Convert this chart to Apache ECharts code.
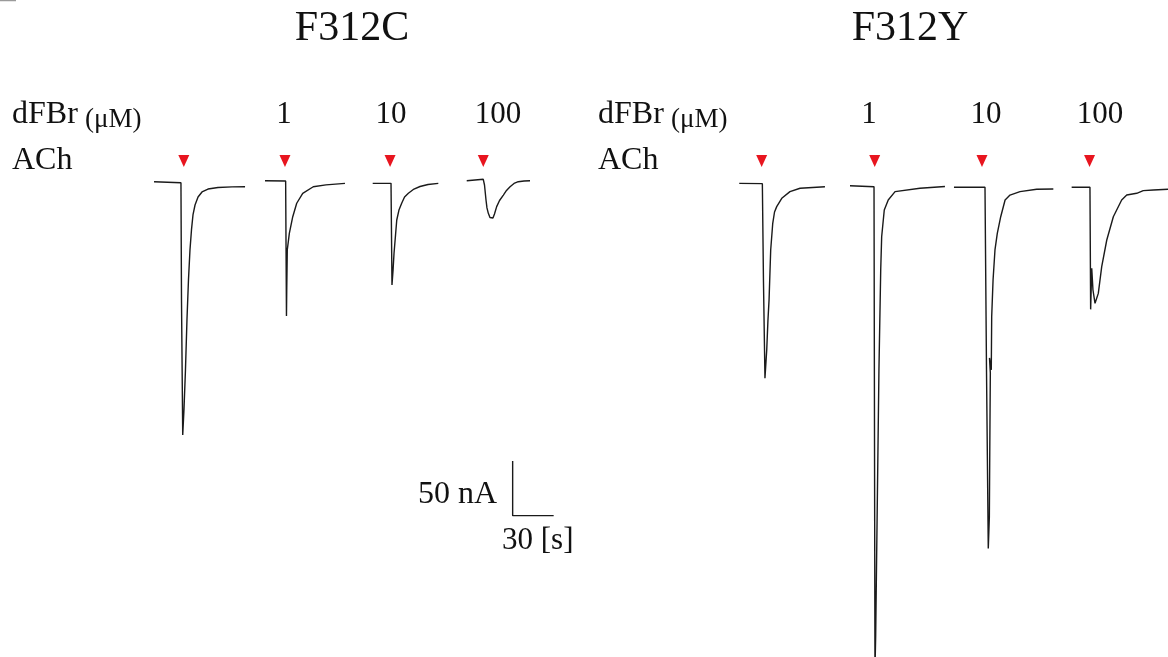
<!DOCTYPE html>
<html>
<head>
<meta charset="utf-8">
<script src="https://cdn.jsdelivr.net/npm/echarts@6/dist/echarts.min.js"></script>
<style>
html,body{margin:0;padding:0;background:#fff;}
#chart{width:1168px;height:657px;}
</style>
</head>
<body>
<div id="chart"></div>
<script>
// Traces: [time (s), current (nA)] on a shared display timeline
const f312cControl = [[112.7,2.1],[132.4,1.2],[132.8,-106.0],[133.7,-229.4],[134.6,-206.6],[135.7,-170.0],[136.8,-124.3],[137.9,-87.7],[139.0,-60.3],[140.1,-42.0],[141.2,-28.3],[142.7,-19.2],[144.9,-11.9],[147.8,-7.3],[152.2,-4.6],[159.5,-3.2],[169.8,-2.6],[179.3,-2.5]];
const f312c1 = [[193.9,3.0],[209.0,2.7],[209.3,-60.3],[209.6,-120.7],[209.8,-96.9],[210.2,-60.3],[211.7,-45.1],[214.2,-29.9],[217.1,-17.6],[221.5,-8.5],[229.2,-2.5],[238.5,-0.8],[252.4,0.6]];
const f312c10 = [[272.7,0.6],[286.1,0.6],[286.8,-92.3],[287.6,-78.6],[288.3,-63.3],[289.4,-46.6],[290.3,-32.9],[291.9,-23.8],[293.9,-17.6],[296.0,-11.9],[298.8,-8.5],[302.9,-4.6],[307.3,-2.3],[313.2,-0.5],[320.7,0.6]];
const f312c100 = [[341.5,3.0],[353.6,4.3],[354.5,-0.9],[355.6,-14.6],[356.3,-21.9],[357.3,-26.8],[358.5,-30.6],[359.8,-32.3],[360.7,-31.1],[361.8,-27.4],[363.4,-20.7],[365.5,-15.1],[368.3,-10.1],[370.6,-5.9],[373.2,-2.5],[376.1,0.5],[379.2,2.1],[383.4,2.7],[387.8,3.0]];
const f312yControl = [[540.9,0.6],[557.8,0.3],[558.6,-87.7],[559.7,-177.6],[561.0,-151.7],[561.9,-124.3],[562.7,-106.0],[563.9,-60.3],[565.4,-35.9],[566.7,-25.6],[568.3,-20.7],[572.0,-13.1],[578.0,-7.0],[585.4,-3.9],[603.6,-2.5]];
const f312y1 = [[621.9,-1.6],[639.5,-2.5],[640.2,-444.2],[640.7,-413.8],[641.9,-291.6],[643.1,-170.0],[644.4,-78.6],[645.1,-48.2],[647.0,-23.8],[649.9,-14.6],[654.9,-7.0],[673.1,-3.9],[691.4,-2.3]];
const f312y10 = [[698.0,-3.0],[720.7,-3.0],[721.8,-170.0],[723.1,-333.3],[723.9,-304.0],[724.2,-243.2],[724.6,-172.7],[724.0,-159.0],[725.3,-170.0],[725.6,-121.3],[726.6,-87.7],[728.0,-60.3],[729.7,-45.1],[732.2,-29.9],[735.4,-14.6],[739.0,-10.1],[746.3,-7.0],[758.5,-4.8],[770.7,-4.6]];
const f312y100 = [[784.1,-3.0],[797.5,-3.0],[798.0,-114.6],[798.8,-77.1],[799.7,-96.9],[801.2,-109.1],[803.6,-100.0],[806.1,-75.6],[809.8,-51.2],[814.6,-29.9],[820.7,-14.6],[824.4,-10.1],[831.7,-8.5],[836.5,-6.1],[843.9,-5.5],[854.6,-4.8]];

// ACh application times (s) and marker level (nA)
const achTimes = [134.5,208.5,285.4,353.6,557.3,640.0,718.5,797.2];
const achLevel = 21.0;

// Labels
const titles = ['F312C','F312Y'];
const concLabels = ['1','10','100'];
const scaleCurrent = 50; // nA
const scaleTime = 30;    // s
const scaleOrigin = [375.1,-303.2];

const traces = [f312cControl,f312c1,f312c10,f312c100,f312yControl,f312y1,f312y10,f312y100];

const chart = echarts.init(document.getElementById('chart'), null, {renderer:'canvas'});
const serif = '"Liberation Serif", "DejaVu Serif", serif';
const traceColor = '#1a1a1a';

const series = traces.map(d => ({
  type:'line', data:d, showSymbol:false, symbol:'none',
  lineStyle:{color:traceColor,width:1.4}, silent:true, clip:true
}));
series.push({
  type:'scatter', data:achTimes.map(t=>[t,achLevel]),
  symbol:'triangle', symbolRotate:180, symbolSize:[11,12],
  itemStyle:{color:'#e8151f',opacity:1}, silent:true
});
series.push({
  type:'line', showSymbol:false, symbol:'none',
  data:[[scaleOrigin[0],scaleOrigin[1]+scaleCurrent],[scaleOrigin[0],scaleOrigin[1]],[scaleOrigin[0]+scaleTime,scaleOrigin[1]]],
  lineStyle:{color:'#1a1a1a',width:1.4}, silent:true
});

function txt(text,x,y,size,align){
  return {type:'text',x:x,y:y,silent:true,
    style:{text:text,font:size+'px '+serif,fill:'#111',textAlign:align||'center',textVerticalAlign:'middle'}};
}

const graphics = [
  {type:'line',shape:{x1:0,y1:0.5,x2:16,y2:0.5},style:{stroke:'#9a9a9a',lineWidth:1.5},silent:true},
  txt(titles[0],352,29,42),
  txt(titles[1],910,29,42),
  txt('dFBr',12,115,32,'left'),
  txt('(μM)',85,120,27,'left'),
  txt('ACh',12,161,32,'left'),
  txt('dFBr',598,115,32,'left'),
  txt('(μM)',671,120,27,'left'),
  txt('ACh',598,161,32,'left'),
  txt(concLabels[0],284,115,31),
  txt(concLabels[1],391,115,31),
  txt(concLabels[2],498,115,31),
  txt(concLabels[0],869,115,31),
  txt(concLabels[1],986,115,31),
  txt(concLabels[2],1100,115,31),
  txt(scaleCurrent+' nA',497,495,32,'right'),
  txt(scaleTime+' [s]',502,541,31,'left')
];

chart.setOption({
  animation:false,
  backgroundColor:'#fff',
  grid:{left:0,right:0,top:0,bottom:0,containLabel:false},
  xAxis:{type:'value',min:0,max:854.6,show:false},
  yAxis:{type:'value',min:-432.4,max:168.2,show:false},
  series:series,
  graphic:graphics
});
</script>
</body>
</html>
